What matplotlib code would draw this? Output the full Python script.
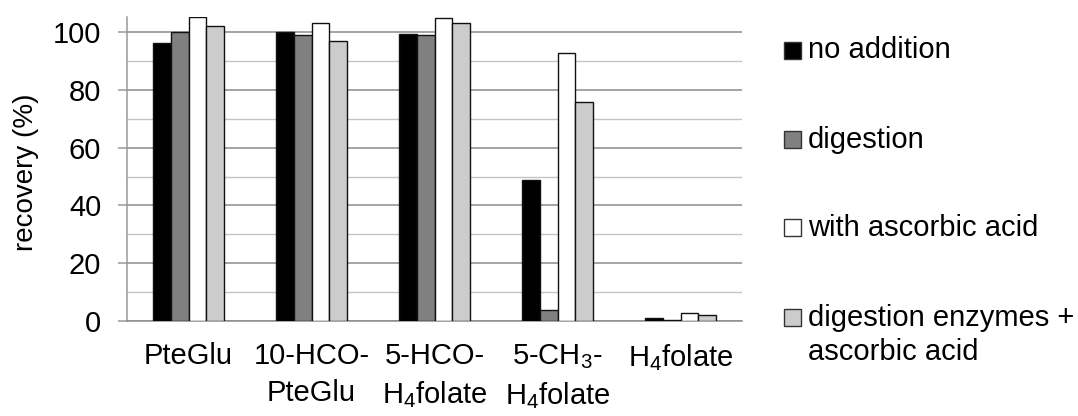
import matplotlib
matplotlib.use("Agg")
import matplotlib.pyplot as plt
import numpy as np
from matplotlib.patches import Rectangle
from matplotlib.ticker import MultipleLocator

plt.rcParams['font.family'] = ['Liberation Sans', 'DejaVu Sans']
plt.rcParams['mathtext.fontset'] = 'custom'
plt.rcParams['mathtext.rm'] = 'Liberation Sans'
plt.rcParams['mathtext.it'] = 'Liberation Sans:italic'
plt.rcParams['mathtext.default'] = 'regular'

categories = ["PteGlu", "10-HCO-\nPteGlu", "5-HCO-\nH$_4$folate",
              "5-CH$_3$-\nH$_4$folate", "H$_4$folate"]
series_names = ["no addition", "digestion", "with ascorbic acid",
                "digestion enzymes +\nascorbic acid"]
no_addition = [96.2, 100.0, 99.3, 48.8, 1.2]
digestion = [100.0, 99.1, 99.0, 3.8, 0.2]
with_ascorbic = [105.1, 103.0, 105.0, 92.9, 2.9]
enzymes_ascorbic = [102.1, 97.0, 103.0, 75.8, 2.2]
series_values = [no_addition, digestion, with_ascorbic, enzymes_ascorbic]
colors = ["#000000", "#808080", "#ffffff", "#cccccc"]

FS_TICK = 21
FS_YLAB = 20
FS_LEG = 21

fig = plt.figure(figsize=(10.78, 4.16), dpi=100)
ax = fig.add_axes([127/1078, 95/416, (742-127)/1078, (321-17)/416])

x = np.arange(len(categories))
w = 0.146
for i, (vals, c) in enumerate(zip(series_values, colors)):
    ax.bar(x + (i - 1.5) * w, vals, width=w, color=c, edgecolor="#111111",
           linewidth=1.0, zorder=3)

ax.set_xlim(-0.5, len(categories) - 0.5)
ax.set_ylim(0, 105.2)
ax.yaxis.set_major_locator(MultipleLocator(20))
ax.yaxis.set_minor_locator(MultipleLocator(10))
ax.grid(axis='y', which='major', color="#8c8c8c", linewidth=1.1, zorder=0)
ax.grid(axis='y', which='minor', color="#c4c4c4", linewidth=1.0, zorder=0)
ax.set_axisbelow(True)

for s in ['top', 'right']:
    ax.spines[s].set_visible(False)
ax.spines['left'].set_color("#9a9a9a")
ax.spines['left'].set_linewidth(1.1)
ax.spines['bottom'].set_color("#8c8c8c")
ax.spines['bottom'].set_linewidth(1.1)

ax.set_xticks(x)
ax.set_xticklabels(categories, fontsize=FS_TICK, linespacing=1.4)
ax.tick_params(axis='x', length=0, pad=15)
ax.tick_params(axis='y', which='major', length=6.5, color="#9a9a9a", width=1.1,
               labelsize=FS_TICK, pad=12)
ax.tick_params(axis='y', which='minor', length=0)

fig.text(26/1078, 1 - 172/416, "recovery (%)", rotation=90, ha='center',
         va='center', fontsize=FS_YLAB)

# legend (drawn manually to match layout)
legend_y = [50, 139, 227, 317]
line_gap = 35
for name, c, yy in zip(series_names, colors, legend_y):
    fig.patches.append(Rectangle((784/1078, 1 - (yy + 8.5)/416), 17/1078, 17/416,
                                 transform=fig.transFigure, facecolor=c,
                                 edgecolor="#333333", linewidth=1.0))
    for k, line in enumerate(name.split('\n')):
        fig.text(808/1078, 1 - (yy + 8.5 + k * line_gap)/416, line,
                 ha='left', va='baseline', fontsize=FS_LEG)

fig.savefig("out.png", dpi=100)
